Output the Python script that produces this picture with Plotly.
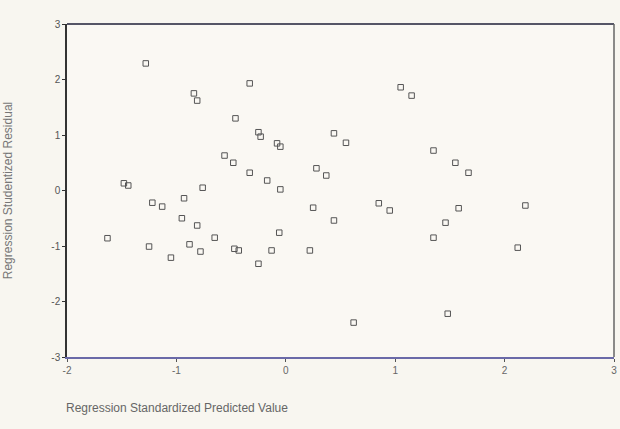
import plotly.graph_objects as go

pred = [-1.28, -0.33, -0.84, -0.81, -0.46, -0.25, -0.23, -0.08, -0.05, -0.56,
        -0.48, -0.33, -0.17, -0.05, -0.76, -1.48, -1.44, -1.22, -1.13, -0.93,
        -0.95, -0.81, -1.63, -1.25, -1.05, -0.88, -0.78, -0.65, -0.47, -0.43,
        -0.25, -0.13, -0.06, 0.22, 0.25, 0.44, 0.55, 0.28, 0.37, 0.44,
        0.85, 0.95, 1.05, 1.15, 1.35, 1.55, 1.67, 2.19, 1.58, 1.46,
        1.35, 2.12, 1.48, 0.62]
resid = [2.29, 1.93, 1.75, 1.62, 1.30, 1.05, 0.97, 0.85, 0.79, 0.63,
         0.50, 0.32, 0.18, 0.02, 0.05, 0.13, 0.09, -0.22, -0.29, -0.14,
         -0.50, -0.63, -0.86, -1.01, -1.21, -0.97, -1.10, -0.85, -1.05, -1.08,
         -1.32, -1.08, -0.76, -1.08, -0.31, 1.03, 0.86, 0.40, 0.27, -0.54,
         -0.23, -0.36, 1.86, 1.71, 0.72, 0.50, 0.32, -0.27, -0.32, -0.58,
         -0.85, -1.03, -2.22, -2.38]

x_ticks = [-2, -1, 0, 1, 2, 3]
y_ticks = [-3, -2, -1, 0, 1, 2, 3]

fig = go.Figure()
fig.add_trace(go.Scatter(
    x=pred, y=resid, mode="markers",
    marker=dict(symbol="square-open", size=5.5, color="#555555",
                line=dict(width=1, color="#555555")),
    showlegend=False, cliponaxis=False,
))

fig.add_shape(type="line", xref="paper", yref="paper", x0=0, x1=1, y0=1, y1=1,
              line=dict(color="#555566", width=2))
fig.add_shape(type="line", xref="paper", yref="paper", x0=1, x1=1, y0=0, y1=1,
              line=dict(color="#666666", width=1.5))

fig.add_annotation(text="Regression Standardized Predicted Value",
                   xref="paper", yref="paper", x=-0.005, y=-0.125,
                   xanchor="left", yanchor="top", showarrow=False,
                   font=dict(family="Liberation Sans, Arial", size=12, color="#666666"))

fig.update_layout(
    width=620, height=429,
    margin=dict(l=67, r=3, t=24, b=72),
    paper_bgcolor="#f8f6f0",
    plot_bgcolor="#faf8f3",
    font=dict(family="Liberation Sans, Arial", size=10, color="#555555"),
    xaxis=dict(range=[-2, 3], tickvals=x_ticks, ticktext=[str(v) for v in x_ticks],
               showgrid=False, zeroline=False, showline=True,
               linecolor="#6a6aa8", linewidth=2, ticks="outside", ticklen=3,
               tickcolor="#555555", tickfont=dict(size=10, color="#666666"),
               ticklabeloverflow="allow"),
    yaxis=dict(range=[-3, 3], tickvals=y_ticks, ticktext=[str(v) for v in y_ticks],
               showgrid=False, zeroline=False, showline=True,
               linecolor="#333333", linewidth=1.5, ticks="outside", ticklen=3,
               tickcolor="#333333", tickfont=dict(size=10, color="#555555"),
               ticklabeloverflow="allow",
               title=dict(text="Regression Studentized Residual", standoff=36,
                          font=dict(size=12, color="#777777"))),
)

fig.write_html("out.html",
               config={"displayModeBar": False},
               post_script="document.body.style.margin='0';"
                           "document.body.style.background='#f8f6f0';"
                           "document.body.style.overflow='hidden';")
